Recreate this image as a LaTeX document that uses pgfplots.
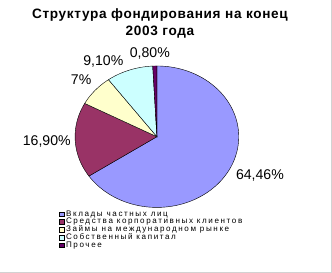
\documentclass[border=0pt]{standalone}
\usepackage{fontspec}
\setmainfont{Liberation Sans}
\usepackage{pgfplots}
\usepackage{pgfplotstable}
\pgfplotsset{compat=1.18}
\definecolor{cA}{HTML}{9999FF}
\definecolor{cB}{HTML}{993366}
\definecolor{cC}{HTML}{FFFFCC}
\definecolor{cD}{HTML}{CCFFFF}
\definecolor{cE}{HTML}{660066}
\pgfplotstableread{
idx value
0 64.46
1 16.90
2 7
3 9.10
4 0.80
}\piedata
\begin{document}
\begin{tikzpicture}
\pgfplotstablegetelem{0}{value}\of\piedata \let\va\pgfplotsretval
\pgfplotstablegetelem{1}{value}\of\piedata \let\vb\pgfplotsretval
\pgfplotstablegetelem{2}{value}\of\piedata \let\vc\pgfplotsretval
\pgfplotstablegetelem{3}{value}\of\piedata \let\vd\pgfplotsretval
\pgfplotstablegetelem{4}{value}\of\piedata \let\ve\pgfplotsretval
\pgfmathsetmacro\total{\va+\vb+\vc+\vd+\ve}
\pgfmathsetmacro\aA{90}
\pgfmathsetmacro\aB{\aA-360*(\va/\total)}
\pgfmathsetmacro\aC{\aB-360*(\vb/\total)}
\pgfmathsetmacro\aD{\aC-360*(\vc/\total)}
\pgfmathsetmacro\aE{\aD-360*(\vd/\total)}
\pgfmathsetmacro\aF{\aE-360*(\ve/\total)}
\begin{axis}[
  width=332bp, height=273bp, scale only axis,
  xmin=0, xmax=332, ymin=0, ymax=273,
  hide axis, clip=false,
  legend style={at={(axis cs:55,67.5)}, anchor=north west, draw=none, fill=none,
    font=\fontsize{8}{8}\selectfont\addfontfeature{LetterSpace=20},
    nodes={inner ysep=0pt, inner xsep=2bp, text height=6bp, text depth=1.7bp},
    row sep=0pt, cells={anchor=west}},
  legend image code/.code={\draw[#1,draw=black,line width=0.3pt] (0bp,-2.3bp) rectangle (4.6bp,2.3bp);},
]
\addplot[fill=cA, draw=black, line width=0.4pt, domain=\aB:\aA, samples=120, variable=\t]
  ({155+81*cos(\t)},{138+70*sin(\t)}) -- (axis cs:155,138) -- cycle;
\addlegendentry{Вклады частных лиц}
\addplot[fill=cB, draw=black, line width=0.4pt, domain=\aC:\aB, samples=40, variable=\t]
  ({155+81*cos(\t)},{138+70*sin(\t)}) -- (axis cs:155,138) -- cycle;
\addlegendentry{Средства корпоративных клиентов}
\addplot[fill=cC, draw=black, line width=0.4pt, domain=\aD:\aC, samples=20, variable=\t]
  ({155+81*cos(\t)},{138+70*sin(\t)}) -- (axis cs:155,138) -- cycle;
\addlegendentry{Займы на международном рынке}
\addplot[fill=cD, draw=black, line width=0.4pt, domain=\aE:\aD, samples=20, variable=\t]
  ({155+81*cos(\t)},{138+70*sin(\t)}) -- (axis cs:155,138) -- cycle;
\addlegendentry{Собственный капитал}
\addplot[fill=cE, draw=black, line width=0.4pt, domain=\aF:\aE, samples=5, variable=\t]
  ({155+81*cos(\t)},{138+70*sin(\t)}) -- (axis cs:155,138) -- cycle;
\addlegendentry{Прочее}
\node[font=\fontsize{13.5}{17}\selectfont\bfseries\addfontfeature{LetterSpace=5}, align=center] at (axis cs:158,250) {Структура фондирования на конец\\2003 года};
\node[font=\fontsize{14}{14}\selectfont] at (axis cs:257,100) {64,46\%};
\node[font=\fontsize{14}{14}\selectfont] at (axis cs:46,133) {16,90\%};
\node[font=\fontsize{14}{14}\selectfont] at (axis cs:80,194) {7\%};
\node[font=\fontsize{14}{14}\selectfont] at (axis cs:102,212) {9,10\%};
\node[font=\fontsize{14}{14}\selectfont] at (axis cs:148,220) {0,80\%};
\draw[gray!35, line width=0.6pt] (axis cs:328,273) -- (axis cs:328,4) -- (axis cs:0,4);
\end{axis}
\end{tikzpicture}
\end{document}
